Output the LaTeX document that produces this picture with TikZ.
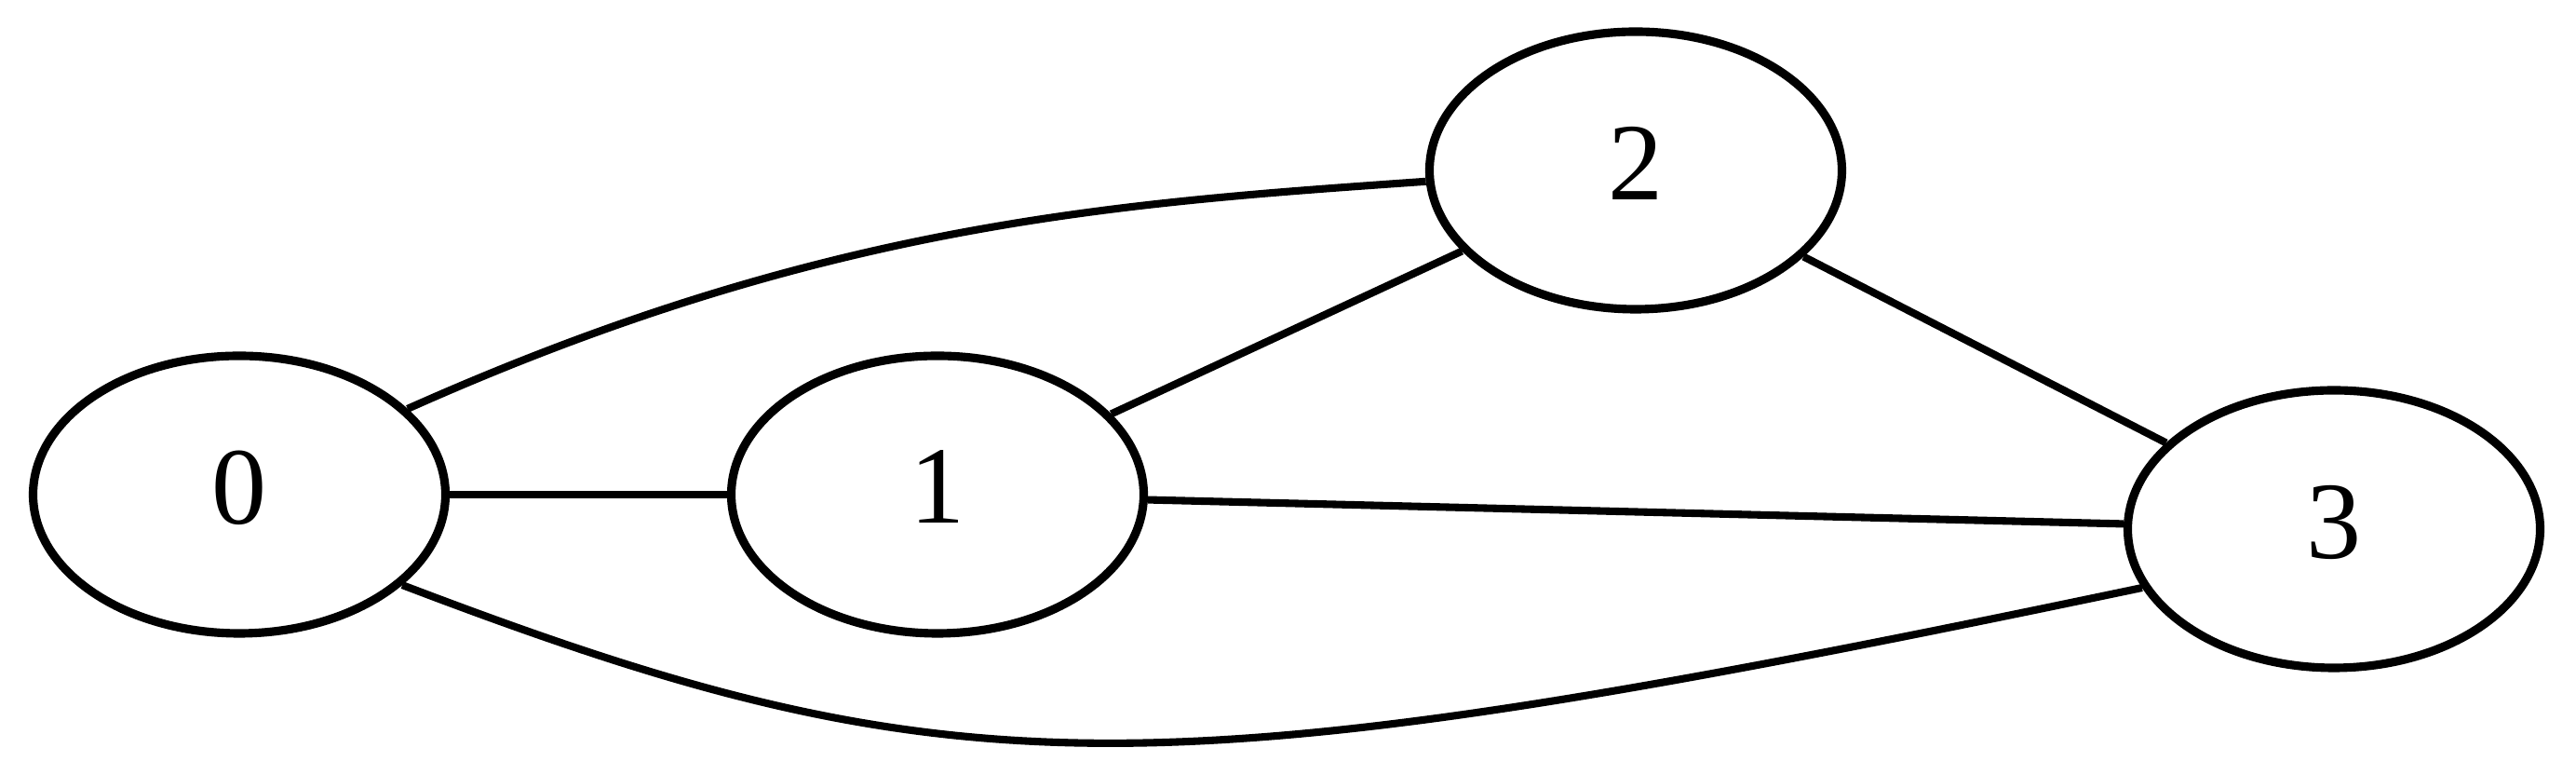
\documentclass[tikz,border=0pt]{standalone}
\usepackage{fontspec}
\setmainfont{Liberation Serif}
\usepackage{tikz}
\usetikzlibrary{shapes.geometric}
\tikzset{vertex/.style={draw, ellipse, line width=2.6pt, minimum width=4.43cm, minimum height=2.98cm, inner sep=0pt, text depth=0.16cm, font=\fontsize{33.6}{40}\selectfont},
	edge/.style={line width=2.3pt}}

\begin{document}
\begin{tikzpicture}
			%%%%% START %%%%%
			
			\useasboundingbox (0, 0) rectangle (27.67, 8.32);
			
			\node[vertex] (n0) at (2.57, 3.01) {0};
			\node[vertex] (n1) at (10.07, 3.01) {1};
			\node[vertex] (n2) at (17.57, 6.49) {2};
			\node[vertex] (n3) at (25.07, 2.64) {3};
			
			\draw[edge] (n0) -- (n1);
			\draw[edge] (n1) -- (n2);
			\draw[edge] (n1) -- (n3);
			\draw[edge] (n2) -- (n3);
			
			\draw[edge] (n0.27) .. controls (8.88, 5.94) and (12.02, 6.14) .. (n2.183);
			\draw[edge] (n0.-29) .. controls (10.25, -0.22) and (12.37, -0.22) .. (n3.197);
			
			%%%%% END %%%%%
		\end{tikzpicture}
\end{document}
